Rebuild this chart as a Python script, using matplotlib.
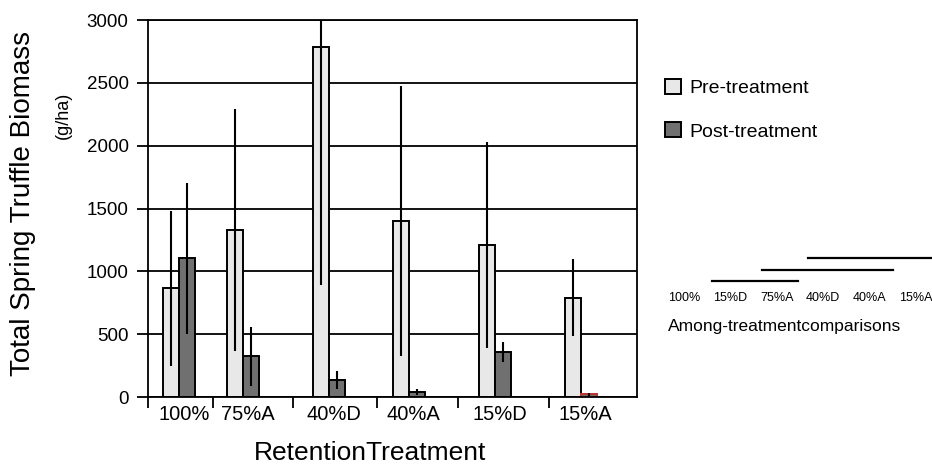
import matplotlib.pyplot as plt
from matplotlib.patches import Patch
import numpy as np

plt.rcParams['font.family'] = ['Liberation Sans', 'DejaVu Sans']

treatments = ['100%', '75%A', '40%D', '40%A', '15%D', '15%A']
pre = [865, 1330, 2785, 1400, 1210, 790]
pre_err = [615, 960, 1890, 1075, 820, 305]
post = [1105, 325, 135, 40, 360, 20]
post_err = [600, 235, 70, 25, 80, 10]

# among-treatment comparisons (ordered treatments, spans of the bars above them)
cmp_labels = ['100%', '15%D', '75%A', '40%D', '40%A', '15%A']
cmp_spans = [(0.6, 2.45), (1.68, 4.5), (2.67, 5.6)]

# group centres (uneven spacing as in the original figure)
pos = np.array([0, 0.8, 1.875, 2.875, 3.95, 5.025])
bounds = [-0.3875, 0.425, 1.425, 2.475, 3.49, 4.625]
w = 0.205

fig = plt.figure(figsize=(9.32, 4.72), dpi=100)
ax = fig.add_axes([148/932, 1-397/472, 489/932, 377/472])

ax.set_axisbelow(True)
ax.yaxis.grid(True, color='black', lw=1.3)

ax.bar(pos - w/2, pre, w, color='#e8e8e8', edgecolor='black', lw=1.4, zorder=2)
pb = ax.bar(pos + w/2, post, w, color='#707070', edgecolor='black', lw=1.4, zorder=2)
pb[-1].set_edgecolor('#c03030')
ax.errorbar(pos - w/2, pre, yerr=pre_err, fmt='none', ecolor='black', elinewidth=1.5, capsize=0, zorder=4)
ax.errorbar(pos + w/2, post, yerr=post_err, fmt='none', ecolor='black', elinewidth=1.5, capsize=0, zorder=4)

ax.set_xlim(-0.3875, 5.725)
ax.set_ylim(0, 3000)
ax.set_yticks(np.arange(0, 3001, 500))
ax.tick_params(axis='y', direction='out', length=8, width=1.3, labelsize=13.5, pad=6)
ax.set_xticks(bounds)
ax.set_xticklabels([])
ax.tick_params(axis='x', which='major', direction='out', length=8, width=1.3)
ax.set_xticks(pos + 0.06, minor=True)
ax.set_xticklabels(treatments, minor=True)
ax.tick_params(axis='x', which='minor', length=0, labelsize=14.5, pad=6)
for s in ax.spines.values():
    s.set_linewidth(1.3)

fig.text(370/932, 1-453/472, 'RetentionTreatment', fontsize=19, ha='center', va='center')
fig.text(23/932, 1-204/472, 'Total Spring Truffle Biomass', fontsize=20, rotation=90,
         ha='center', va='center')
fig.text(63/932, 1-115/472, '(g/ha)', fontsize=13, rotation=90, ha='center', va='center')

handles = [Patch(facecolor='#e8e8e8', edgecolor='black', lw=1.4),
           Patch(facecolor='#707070', edgecolor='black', lw=1.4)]
fig.legend(handles, ['Pre-treatment', 'Post-treatment'], loc='upper left',
           bbox_to_anchor=(665/932, 1-79/472), frameon=False, fontsize=14,
           handlelength=0.8, handleheight=0.8, handletextpad=0.45, labelspacing=1.3,
           borderpad=0, borderaxespad=0)

# comparison panel
cax = fig.add_axes([661/932, 1-304/472, 278/932, 57/472])
cax.axis('off')
cax.set_xlim(-0.5, 5.5)
cax.set_ylim(-2, 2.96)
for i, (a, b) in enumerate(cmp_spans):
    cax.plot([a, b], [i, i], color='black', lw=1.6, clip_on=False)
for i, lab in enumerate(cmp_labels):
    cax.text(i, -1.48, lab, fontsize=9, ha='center', va='center', clip_on=False)
fig.text(668/932, 1-327/472, 'Among-treatmentcomparisons', fontsize=12.5, ha='left', va='center')

fig.savefig('out.png', dpi=100)
